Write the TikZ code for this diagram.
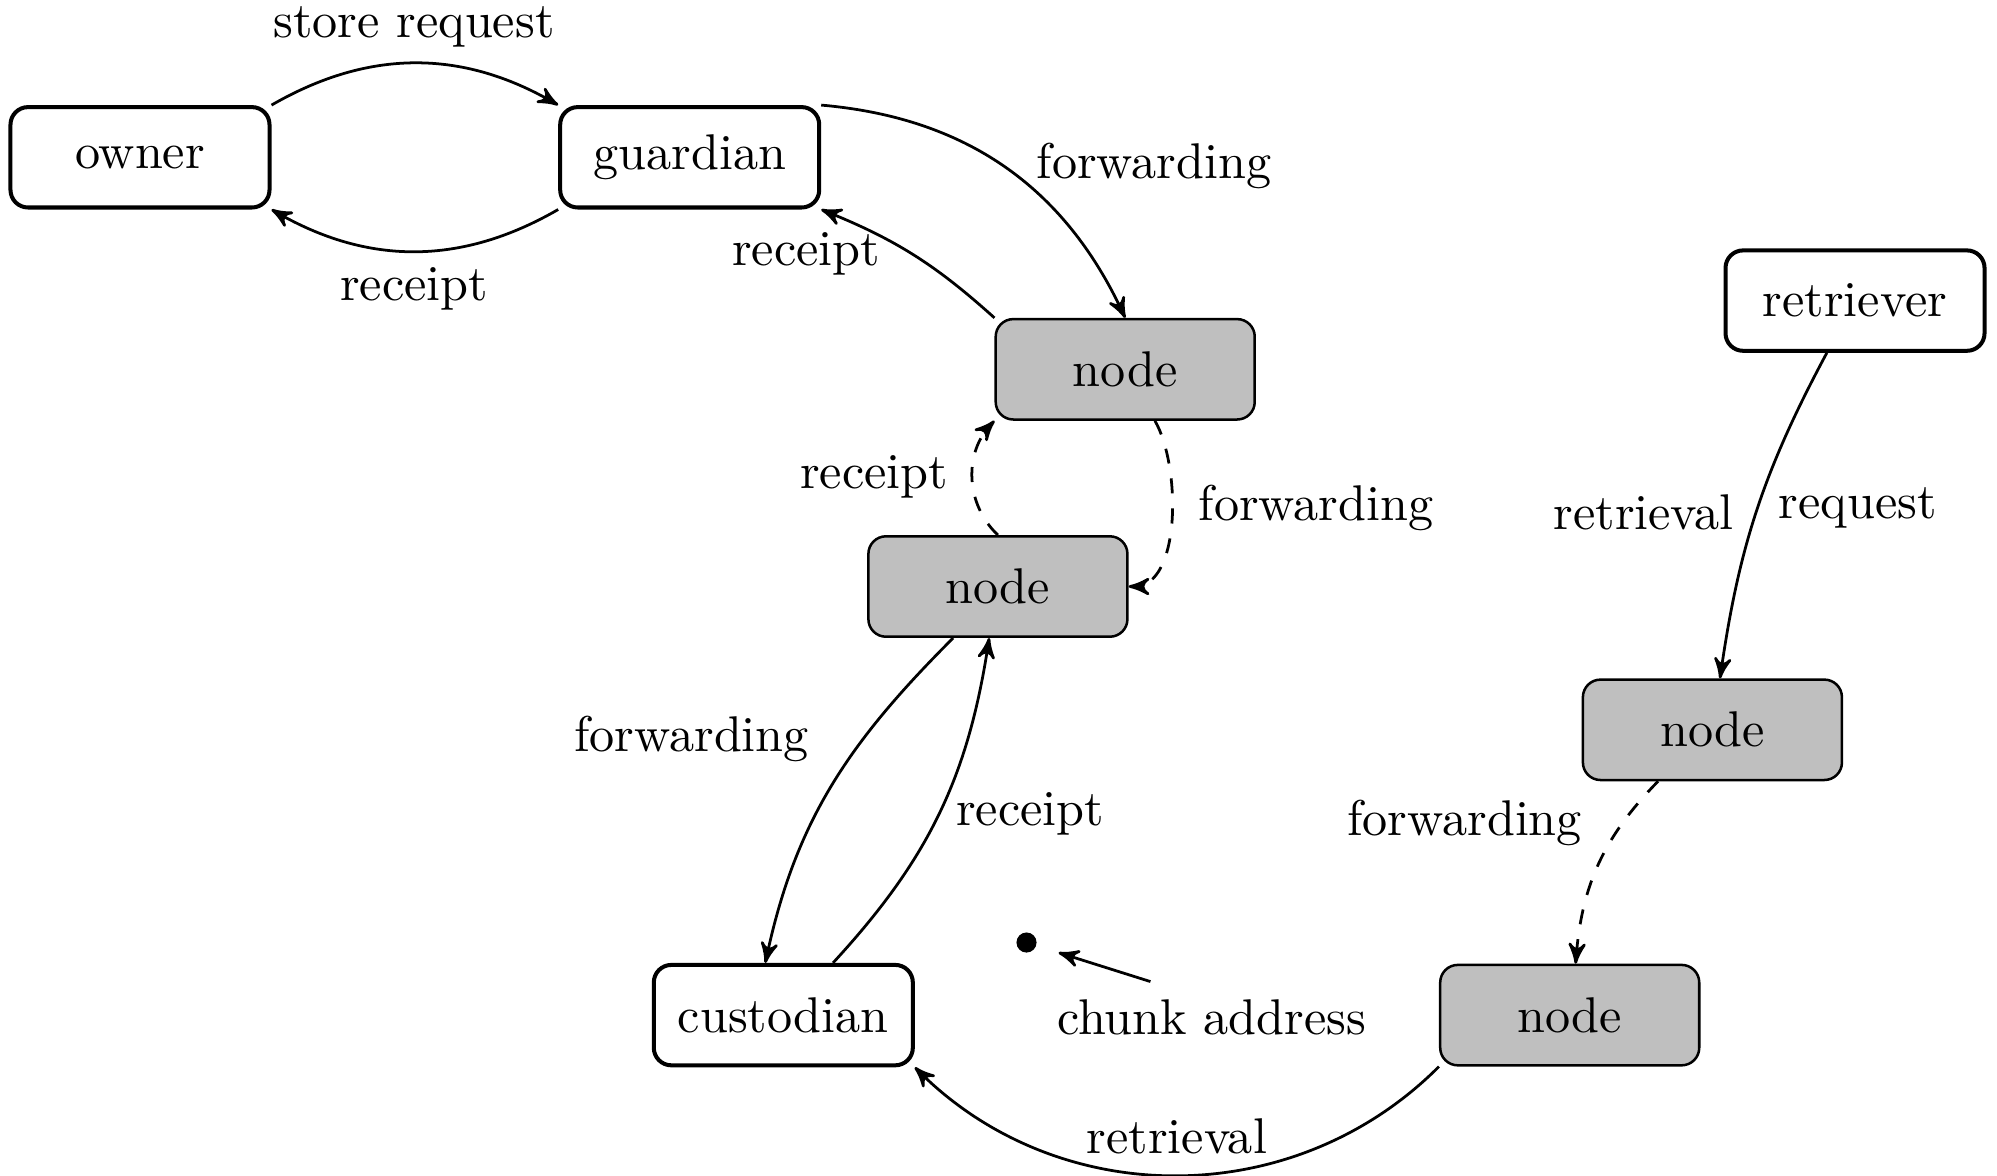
\documentclass[tikz,border=0pt]{standalone}
\usetikzlibrary{arrows}
\begin{document}
\begin{tikzpicture}[x=0.1992pt, y=-0.1992pt,
  box/.style={rectangle, rounded corners=3.5pt, minimum width=51.6pt, minimum height=20pt, inner sep=0pt},
  whitebox/.style={box, draw, line width=0.8pt, fill=white},
  graybox/.style={box, draw, line width=0.5pt, fill=black!25},
  arr/.style={->, >=stealth', line width=0.55pt},
]
\useasboundingbox (0,0) rectangle (1997,1175);
% nodes
\node[whitebox] (owner) at (140,157.3) {owner};
\node[whitebox] (guardian) at (689.7,157.3) {guardian};
\node[graybox] (node1) at (1125.2,369.3) {node};
\node[graybox] (node2) at (997.9,586.5) {node};
\node[whitebox] (custodian) at (783.3,1015.1) {custodian};
\node[whitebox] (retriever) at (1855,300.6) {retriever};
\node[graybox] (node3) at (1712.4,729.8) {node};
\node[graybox] (node4) at (1569.7,1015.1) {node};
\node[circle, fill, inner sep=0pt, minimum size=4pt] (dot) at (1026.5,942.5) {};
\node (chunk) at (1211.8,1017) {chunk address};
% connectors
\draw[arr] (owner.north east) to[bend left=30] (guardian.north west);
\draw[arr] (guardian.south west) to[bend left=30] (owner.south east);
\draw[arr] (guardian.north east) to[bend left=30] (node1.north);
\draw[arr] (node1.north west) to[bend right=10] (guardian.south east);
\draw[arr, dashed] (node1) to[out=-60, in=0, looseness=0.8] (node2);
\draw[arr, dashed] (node2.north) to[bend left=45] (node1.south west);
\draw[arr] (node2.-131) to[out=-135, in=78] (custodian.109);
\draw[arr] (custodian) to[bend right=17] (node2);
\draw[arr] (retriever) to[bend right=10] (node3);
\draw[arr, dashed] (node3) to[bend right=20] (node4);
\draw[arr] (node4.south west) to[bend left=45] (custodian.south east);
\draw[arr, shorten >=4.5pt] (chunk.150) -- (dot);
% labels
\node (lStore) at (414,27) {store request};
\node (lReceiptA) at (414,288.5) {receipt};
\node (lFwdA) at (1154,166) {forwarding};
\node (lReceiptB) at (806,254) {receipt};
\node (lReceiptC) at (874,477) {receipt};
\node (lFwdB) at (1316,507.5) {forwarding};
\node (lFwdC) at (691.5,739) {forwarding};
\node (lReceiptD) at (1030,814) {receipt};
\node (lRetrA) at (1643.6,512) {retrieval};
\node (lRequest) at (1857.6,508) {request};
\node (lFwdD) at (1464.6,823.4) {forwarding};
\node (lRetrB) at (1176.8,1136) {retrieval};
\end{tikzpicture}
\end{document}
